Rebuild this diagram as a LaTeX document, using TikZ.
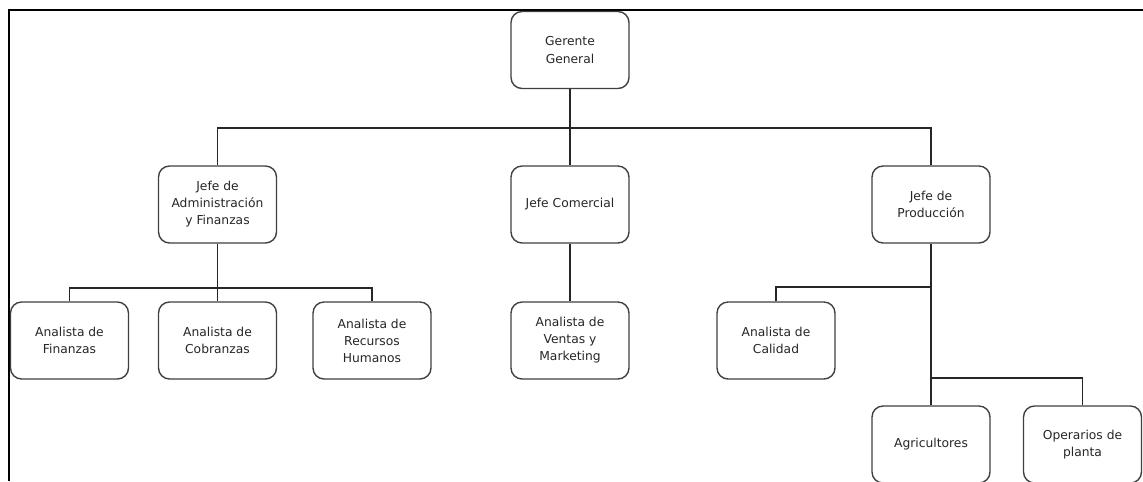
\documentclass[tikz,border=0pt]{standalone}
\usepackage{fontspec}
\setmainfont{DejaVu Sans}

\tikzset{
    puesto/.style={draw=black!75, line width=0.8pt, rounded corners=0.22cm, fill=white,
        minimum width=2.36cm, minimum height=1.54cm, inner sep=1pt, align=center,
        font=\fontsize{7}{9.7}\selectfont, text=black!85},
    enlace/.style={draw=black!85, line width=0.6pt}
}

\begin{document}
\begin{tikzpicture}[x=0.02cm, y=-0.02cm]
    % page size and clipping
    \useasboundingbox (0,0) rectangle (1143,481);
    \clip (0,0) rectangle (1143,481);
    % frame
    \draw[line width=1.2pt] (1143,10) -| (9,481);
    % top level
    \node[puesto] (gg) at (570,50) {Gerente\\General};
    % jefes
    \node[puesto] (adm) at (217.5,204.5) {Jefe de\\Administración\\y Finanzas};
    \node[puesto] (com) at (570,204.5) {Jefe Comercial};
    \node[puesto] (prod) at (931,204.5) {Jefe de\\Producción};
    % analistas
    \node[puesto] (fin) at (69.5,340.5) {Analista de\\Finanzas};
    \node[puesto] (cob) at (217.5,340.5) {Analista de\\Cobranzas};
    \node[puesto] (rrhh) at (372,340.5) {Analista de\\Recursos\\Humanos};
    \node[puesto] (ven) at (570,340.5) {Analista de\\Ventas y\\Marketing};
    \node[puesto] (cal) at (776,340.5) {Analista de\\Calidad};
    % operativos
    \node[puesto] (agr) at (931,444.5) {Agricultores};
    \node[puesto] (ope) at (1082.5,444.5) {Operarios de\\planta};
    % buses
    \coordinate (busA) at (570,128);
    \coordinate (busB) at (217.5,288);
    \coordinate (busC) at (931,287);
    \coordinate (busD) at (931,378);
    % connectors
    \draw[enlace] (gg.south) -- (com.north);
    \draw[enlace] (adm.north) |- (busA);
    \draw[enlace] (prod.north) |- (busA);
    \draw[enlace] (adm.south) -- (cob.north);
    \draw[enlace] (fin.north) |- (busB);
    \draw[enlace] (rrhh.north) |- (busB);
    \draw[enlace] (com.south) -- (ven.north);
    \draw[enlace] (prod.south) -- (agr.north);
    \draw[enlace] (cal.north) |- (busC);
    \draw[enlace] (ope.north) |- (busD);
\end{tikzpicture}
\end{document}
